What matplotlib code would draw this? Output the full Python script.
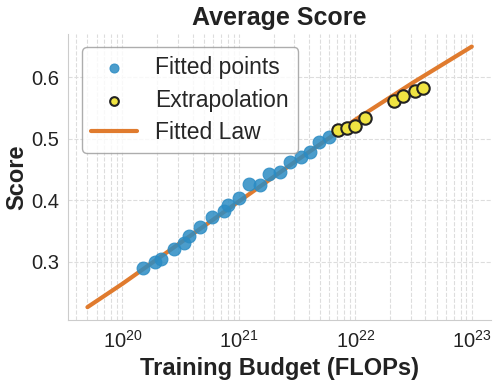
import matplotlib
matplotlib.use('Agg')
import matplotlib.pyplot as plt
import seaborn as sns
import numpy as np

sns.set_style('whitegrid')
plt.rcParams['font.family'] = ['Liberation Sans', 'DejaVu Sans']

# fitted points (log10 FLOPs, score)
fitLogC = [20.18, 20.28, 20.33, 20.44, 20.53, 20.57, 20.67, 20.77, 20.87, 20.91,
           21.00, 21.09, 21.18, 21.26, 21.35, 21.44, 21.53, 21.61, 21.69, 21.77]
fitScore = [0.290, 0.300, 0.304, 0.320, 0.331, 0.342, 0.357, 0.372, 0.383, 0.393,
            0.404, 0.426, 0.424, 0.443, 0.446, 0.462, 0.470, 0.478, 0.494, 0.503]

# extrapolation points
extLogC = [21.85, 21.93, 22.00, 22.08, 22.33, 22.41, 22.51, 22.58]
extScore = [0.514, 0.517, 0.521, 0.534, 0.562, 0.569, 0.578, 0.583]

# fitted law curve
lawLogC = [19.70, 20.00, 20.50, 21.00, 21.50, 22.00, 22.50, 23.00]
lawScore = [0.226, 0.264, 0.331, 0.398, 0.465, 0.531, 0.592, 0.650]

fitC = [10 ** v for v in fitLogC]
extC = [10 ** v for v in extLogC]
lawC = [10 ** v for v in lawLogC]

fig, ax = plt.subplots(figsize=(4.98, 3.9), dpi=100)
fig.subplots_adjust(left=0.137, right=0.986, bottom=0.179, top=0.914)

ax.scatter(fitC, fitScore, s=85, color='#2b8cc4', alpha=0.85, edgecolor='#2b8cc4',
           linewidth=0.8, label='Fitted points', zorder=3)
ax.scatter(extC, extScore, s=80, color='#f0e442', edgecolor='#222222',
           linewidth=1.5, label='Extrapolation', zorder=4)
ax.plot(lawC, lawScore, color='#e07b2e', lw=3, label='Fitted Law', zorder=2)

ax.set_xscale('log')
ax.set_yticks([0.3, 0.4, 0.5, 0.6])
ax.set_title('Average Score', fontsize=18, fontweight='bold', color='#222222')
ax.set_xlabel('Training Budget (FLOPs)', fontsize=17, fontweight='bold', color='#222222')
ax.set_ylabel('Score', fontsize=17, fontweight='bold', color='#222222', labelpad=2)
ax.tick_params(axis='both', labelsize=14.5, labelcolor='#222222')
ax.tick_params(axis='y', pad=3)

ax.grid(True, which='both', ls='--', color='#dddddd', lw=0.8)
sns.despine(ax=ax)
for sp in ['left', 'bottom']:
    ax.spines[sp].set_color('#cccccc')

ax.legend(loc='upper left', fontsize=16.5, frameon=True, edgecolor='#999999',
          markerscale=0.7, borderaxespad=0.6, labelspacing=0.4)

plt.savefig('out.png', dpi=100)
